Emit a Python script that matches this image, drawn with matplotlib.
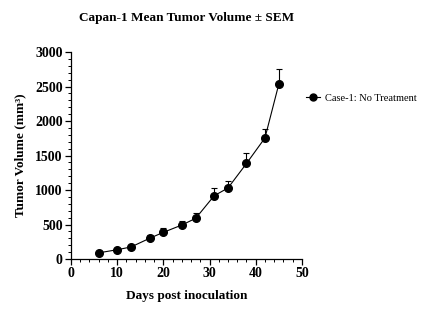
import matplotlib.pyplot as plt
from matplotlib.ticker import MultipleLocator
from matplotlib.lines import Line2D

plt.rcParams['font.family'] = ['Liberation Serif', 'DejaVu Serif']

days = [6, 10, 13, 17, 20, 24, 27, 31, 34, 38, 42, 45]
volume = [90, 135, 175, 300, 387, 493, 590, 917, 1030, 1385, 1755, 2535]
sem = [15, 20, 22, 45, 60, 60, 70, 107, 100, 150, 130, 220]

fig = plt.figure(figsize=(4.26, 3.23), dpi=100)
ax = fig.add_axes([0.1667, 0.198, 0.542, 0.641])

ax.errorbar(days, volume, yerr=[[0] * len(sem), sem], color='black', marker='o',
            markersize=5.5, linewidth=0.8, elinewidth=0.8, capsize=2.5, capthick=0.8)

ax.set_xlim(0, 50)
ax.set_ylim(0, 3000)
ax.xaxis.set_major_locator(MultipleLocator(10))
ax.xaxis.set_minor_locator(MultipleLocator(2))
ax.yaxis.set_major_locator(MultipleLocator(500))
ax.yaxis.set_minor_locator(MultipleLocator(100))
ax.spines['top'].set_visible(False)
ax.spines['right'].set_visible(False)
for s in ['left', 'bottom']:
    ax.spines[s].set_linewidth(0.9)
ax.tick_params(which='major', length=4, width=0.9, labelsize=10, pad=2)
ax.tick_params(which='minor', length=2.5, width=0.7)
for lab in ax.get_xticklabels() + ax.get_yticklabels():
    lab.set_fontweight('bold')

ax.set_title('Capan-1 Mean Tumor Volume ± SEM', fontsize=9.5, fontweight='bold', pad=22)
ax.set_xlabel('Days post inoculation', fontsize=9.5, fontweight='bold', labelpad=7)
ax.set_ylabel('Tumor Volume (mm³)', fontsize=9.5, fontweight='bold', labelpad=6)

handle = Line2D([], [], color='black', marker='o', markersize=5, linewidth=0.8)
ax.legend([handle], ['Case-1: No Treatment'], loc='upper left',
          bbox_to_anchor=(1.0, 0.82), frameon=False, fontsize=7.5,
          handlelength=1.3, handletextpad=0.5, borderaxespad=0)

fig.savefig('out.png', dpi=100)
